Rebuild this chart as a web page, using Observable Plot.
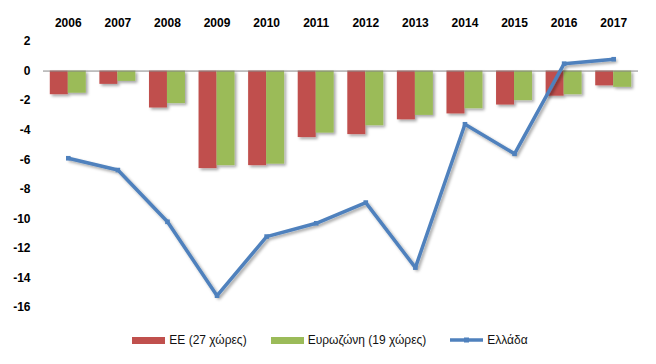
<!DOCTYPE html>
<html>
<head>
<meta charset="utf-8">
<script src="https://cdn.jsdelivr.net/npm/d3@7"></script>
<script src="https://cdn.jsdelivr.net/npm/@observablehq/plot@0.6"></script>
<style>
  body { margin: 0; background: #fff; font-family: "Liberation Sans", Arial, sans-serif; }
  #chart { width: 656px; }
  .legend { display: flex; justify-content: center; align-items: center; margin-top: 10px; line-height: 16px; font-size: 12px; color: #111; padding-left: 4px; }
  .legend .item { display: flex; align-items: center; margin: 0 12px; }
  .legend .sw { width: 33px; height: 7px; margin-right: 4px; }
  .legend svg { margin-right: 4px; }
</style>
</head>
<body>
<div id="chart"></div>
<script>
const years = ["2006","2007","2008","2009","2010","2011","2012","2013","2014","2015","2016","2017"];
const eu27 = [-1.6,-0.9,-2.5,-6.6,-6.4,-4.5,-4.3,-3.3,-2.9,-2.3,-1.7,-1.0];
const eurozone = [-1.5,-0.7,-2.2,-6.4,-6.3,-4.2,-3.7,-3.0,-2.55,-2.0,-1.6,-1.1];
const greece = [-5.9,-6.7,-10.2,-15.2,-11.2,-10.3,-8.9,-13.3,-3.6,-5.6,0.5,0.8];
const seriesNames = ["ΕΕ (27 χώρες)", "Ευρωζώνη (19 χώρες)", "Ελλάδα"];
const colors = ["#C0504D", "#9BBB59", "#4F81BD"];
const yTicks = [2,0,-2,-4,-6,-8,-10,-12,-14,-16];

const euData = years.map((y, i) => ({year: y, value: eu27[i]}));
const ezData = years.map((y, i) => ({year: y, value: eurozone[i]}));
const grData = years.map((y, i) => ({year: y, value: greece[i]}));

const chart = Plot.plot({
  width: 656,
  height: 322,
  marginLeft: 43,
  marginRight: 18,
  marginTop: 41,
  marginBottom: 15,
  style: {fontFamily: "'Liberation Sans', Arial, sans-serif", fontSize: "12px", color: "#000", background: "#fff"},
  x: {type: "band", domain: years, padding: 0, round: false, axis: "top", tickSize: 0, tickPadding: 15, label: null},
  y: {domain: [-16, 2], ticks: yTicks, tickSize: 0, tickPadding: 13, label: null, tickFormat: d => d < 0 ? "-" + Math.abs(d) : String(d)},
  marks: [
    Plot.barY(euData, {x: "year", y: "value", fill: colors[0], insetLeft: 6.8, insetRight: 24.8, className: "shadowed"}),
    Plot.barY(ezData, {x: "year", y: "value", fill: colors[1], insetLeft: 24.8, insetRight: 6.8, className: "shadowed"}),
    Plot.ruleY([0], {stroke: "#888", strokeWidth: 1}),
    Plot.line(grData, {x: "year", y: "value", stroke: colors[2], strokeWidth: 3.5, className: "shadowed"}),
    Plot.dot(grData, {x: "year", y: "value", symbol: "square", r: 2.6, fill: colors[2]})
  ]
});

// bold axis labels
d3.select(chart).selectAll("g[aria-label='x-axis tick label'] text, g[aria-label='y-axis tick label'] text")
  .style("font-weight", "bold");
// drop shadow filter
const defs = d3.select(chart).insert("defs", ":first-child");
defs.append("filter").attr("id", "shd").attr("x", "-20%").attr("y", "-20%").attr("width", "140%").attr("height", "140%")
  .append("feDropShadow").attr("dx", 2).attr("dy", 2).attr("stdDeviation", 1.5).attr("flood-color", "#000").attr("flood-opacity", 0.35);
d3.select(chart).selectAll(".shadowed").attr("filter", "url(#shd)");

document.getElementById("chart").appendChild(chart);

// legend
const legend = d3.select("#chart").append("div").attr("class", "legend");
seriesNames.forEach((name, i) => {
  const item = legend.append("div").attr("class", "item");
  if (i < 2) {
    item.append("div").attr("class", "sw").style("background", colors[i]);
  } else {
    const s = item.append("svg").attr("width", 33).attr("height", 8);
    s.append("line").attr("x1", 0).attr("x2", 33).attr("y1", 4).attr("y2", 4).attr("stroke", colors[i]).attr("stroke-width", 3.5);
    s.append("rect").attr("x", 14).attr("y", 1.5).attr("width", 5).attr("height", 5).attr("fill", colors[i]);
  }
  item.append("span").text(name);
});
</script>
</body>
</html>
